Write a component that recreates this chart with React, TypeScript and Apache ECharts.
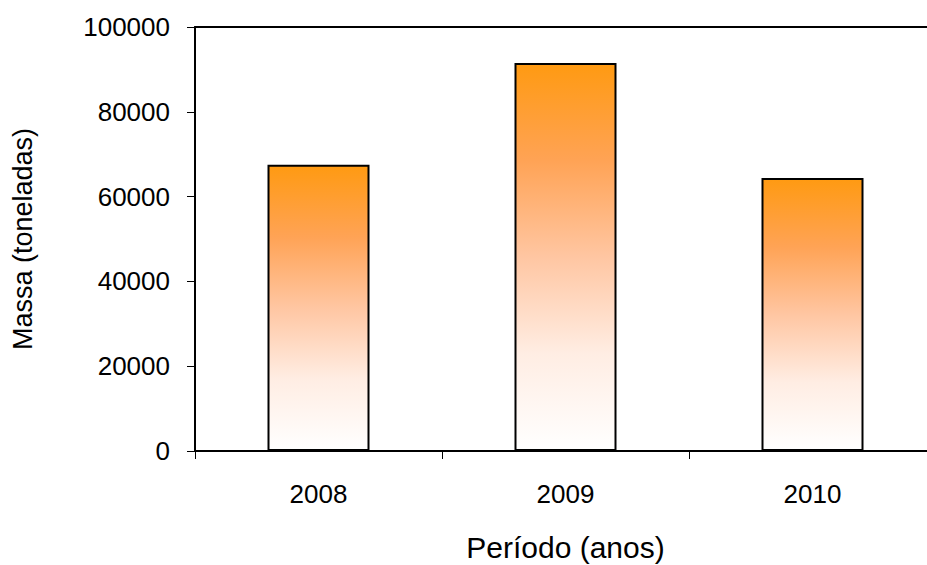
import React, { useEffect, useRef } from "react";
import * as echarts from "echarts";

const years = ["2008", "2009", "2010"];
const massValues = [67500, 91500, 64400];
const yTicks = [0, 20000, 40000, 60000, 80000, 100000];

const FONT = "Liberation Sans, Arial, sans-serif";

export default function App() {
  const ref = useRef<HTMLDivElement>(null);

  useEffect(() => {
    if (!ref.current) return;
    document.body.style.margin = "0";
    const chart = echarts.init(ref.current, undefined, { renderer: "svg" });

    const barFill = new echarts.graphic.LinearGradient(0, 0, 0, 1, [
      { offset: 0, color: "#FF9A12" },
      { offset: 0.25, color: "#FFA355" },
      { offset: 0.5, color: "#FFC6A2" },
      { offset: 0.75, color: "#FFEDE3" },
      { offset: 1, color: "#FFFFFF" },
    ]);

    chart.setOption({
      animation: false,
      backgroundColor: "#ffffff",
      grid: {
        left: 195,
        right: 14,
        top: 27,
        bottom: 114,
        show: false,
        containLabel: false,
        outerBoundsMode: "none",
      },
      xAxis: [
        {
          type: "category",
          data: years,
          name: "Período (anos)",
          nameLocation: "middle",
          nameGap: 81,
          nameTextStyle: { fontFamily: FONT, fontSize: 30, color: "#000" },
          axisLine: { show: true, lineStyle: { color: "#000", width: 2 } },
          axisTick: {
            show: true,
            alignWithLabel: false,
            length: 8,
            lineStyle: { color: "#000", width: 1 },
          },
          axisLabel: {
            fontFamily: FONT,
            fontSize: 26,
            color: "#000",
            margin: 30,
          },
          splitLine: { show: false },
        },
        {
          // plain top frame line of the plot area
          type: "category",
          data: years,
          position: "top",
          axisLine: { show: true, lineStyle: { color: "#000", width: 2 } },
          axisTick: { show: false },
          axisLabel: { show: false },
          splitLine: { show: false },
        },
      ],
      yAxis: {
        type: "value",
        min: 0,
        max: 100000,
        interval: 20000,
        name: "Massa (toneladas)",
        nameLocation: "middle",
        nameGap: 159,
        nameRotate: 90,
        nameTextStyle: { fontFamily: FONT, fontSize: 27, color: "#000" },
        axisLine: { show: true, lineStyle: { color: "#000", width: 2 } },
        axisTick: {
          show: true,
          inside: false,
          length: 8,
          lineStyle: { color: "#000", width: 1 },
        },
        axisLabel: {
          fontFamily: FONT,
          fontSize: 26,
          color: "#000",
          margin: 25,
          formatter: (v: number) => (yTicks.includes(v) ? String(v) : ""),
        },
        splitLine: { show: false },
      },
      series: [
        {
          type: "bar",
          xAxisIndex: 0,
          data: massValues,
          barWidth: 102,
          itemStyle: {
            color: barFill,
            borderColor: "#000",
            borderWidth: 2,
          },
        },
      ],
    });

    return () => chart.dispose();
  }, []);

  return (
    <div style={{ width: 927, height: 565, overflow: "hidden" }}>
      <div ref={ref} style={{ width: 950, height: 565 }} />
    </div>
  );
}
